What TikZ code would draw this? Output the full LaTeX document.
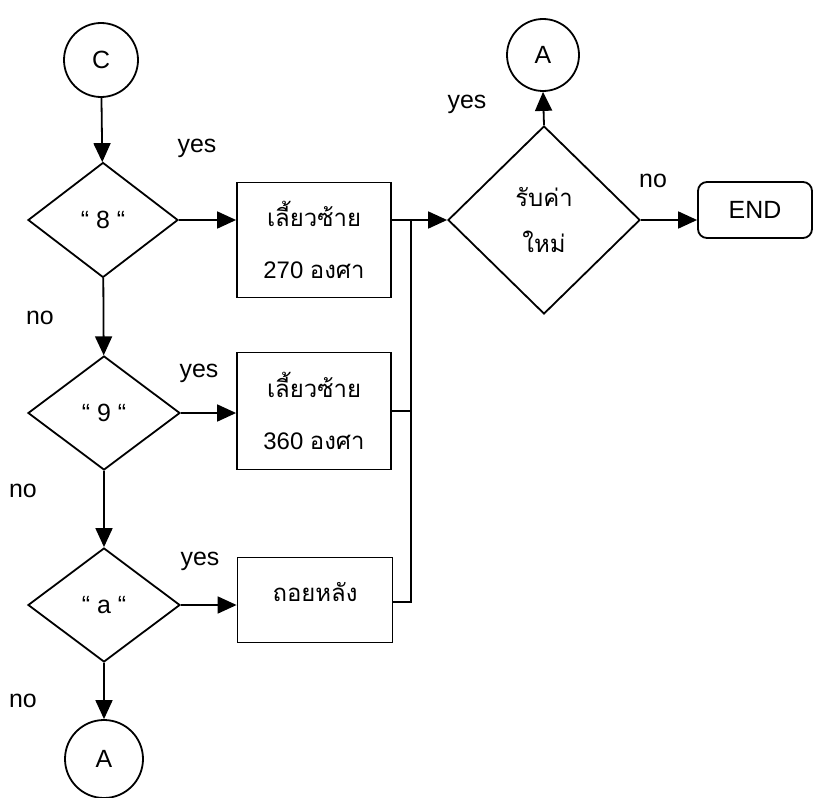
\documentclass[tikz,border=0pt]{standalone}
\usepackage{fontspec}
\setmainfont{Liberation Sans}
\newfontfamily\thaifont[Script=Thai]{Loma}
\usetikzlibrary{shapes.geometric,arrows.meta}
\tikzset{
  x=1bp, y=-1bp,
  every node/.style={font=\fontsize{25}{28}\selectfont},
  line/.style={line width=1.8bp, draw=black},
  arr/.style={line, -{Triangle[length=19bp,width=17bp]}},
  conn/.style={line, circle, inner sep=0pt, minimum size=#1},
  decision/.style={line, diamond, inner sep=0pt, aspect=1.3},
  procbox/.style={line, rectangle, inner sep=0pt, align=center},
  lbl/.style={inner sep=0pt}
}
\begin{document}
\begin{tikzpicture}
  \useasboundingbox (0,0) rectangle (826,798);

  % left column: connector C and the three tests
  \node[conn=74bp] (C) at (101,60) {C};
  \node[decision, minimum width=150bp, minimum height=115bp] (d8) at (103,220) {“~8~“};
  \node[decision, minimum width=152bp, minimum height=114bp] (d9) at (104,413) {“~9~“};
  \node[decision, minimum width=152bp, minimum height=114bp] (da) at (104,605) {“~a~“};
  \node[conn=78bp] (Ab) at (104,759) {A};

  % actions
  \node[procbox, minimum width=154bp, minimum height=115bp,
        font=\fontsize{24}{53}\selectfont] (b1) at (314,240)
        {\thaifont เลี้ยวซ้าย\\270 {\thaifont องศา}};
  \node[procbox, minimum width=154bp, minimum height=117bp,
        font=\fontsize{24}{53}\selectfont] (b2) at (314,411)
        {\thaifont เลี้ยวซ้าย\\360 {\thaifont องศา}};
  \node[procbox, minimum width=155bp, minimum height=85bp] (b3) at (315,600) {};
  \node[lbl, font=\fontsize{24}{28}\selectfont] (b3t) at (315,592) {\thaifont ถอยหลัง};

  % new input test, restart and end
  \node[decision, minimum width=192bp, minimum height=188bp,
        align=center, font=\fontsize{24}{46}\selectfont] (d4) at (544,220)
        {\thaifont รับค่า\\\thaifont ใหม่};
  \node[conn=72bp] (At) at (543,55) {A};
  \node[line, rectangle, rounded corners=9bp, minimum width=114bp,
        minimum height=56bp, inner sep=0pt] (E) at (755,210) {END};

  % merge bus
  \coordinate (bus) at (411,220);

  % connectors
  \draw[arr] (C) -- (d8);
  \draw[arr] (d8) -- (d9);
  \draw[arr] (d9) -- (da);
  \draw[arr] (da) -- (Ab);
  \draw[arr] (d8.east) -- (d8.east -| b1.west);
  \draw[arr] (d9.east) -- (d9.east -| b2.west);
  \draw[arr] (da.east) -- (da.east -| b3.west);
  \draw[arr] (b3.east |- 0,602) -| (bus) -- (d4.west);
  \draw[line] (b1.east |- bus) -- (bus);
  \draw[line] (b2.east) -- (b2.east -| bus);
  \draw[arr] (d4.north) -- (At.south);
  \draw[arr] (d4.east) -- (d4.east -| E.west);

  % branch labels
  \node[lbl] (y8) at (197,148) {yes};
  \node[lbl] (n8) at (40,318) {no};
  \node[lbl] (y9) at (199,373) {yes};
  \node[lbl] (n9) at (23,491) {no};
  \node[lbl] (ya) at (200,561) {yes};
  \node[lbl] (na) at (23,701) {no};
  \node[lbl] (y4) at (467,104) {yes};
  \node[lbl] (n4) at (653,181) {no};
\end{tikzpicture}
\end{document}
